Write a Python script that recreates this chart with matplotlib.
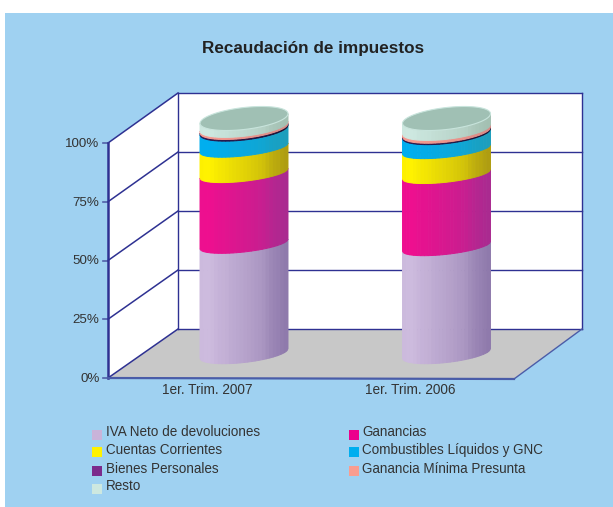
import numpy as np
import matplotlib
matplotlib.use('Agg')
import matplotlib.pyplot as plt
from matplotlib.patches import Polygon, Rectangle

plt.rcParams['font.family'] = ['Liberation Sans', 'DejaVu Sans']

categories = ['1er. Trim. 2007', '1er. Trim. 2006']
series = ['IVA Neto de devoluciones', 'Ganancias', 'Cuentas Corrientes',
          'Combustibles Líquidos y GNC', 'Bienes Personales',
          'Ganancia Mínima Presunta', 'Resto']
# porcentajes, 2007 y 2006
iva = [46.6, 45.6]
ganancias = [30.1, 30.7]
cuentas = [10.8, 10.6]
combustibles = [7.6, 6.7]
bienes = [0.7, 0.6]
minima = [0.9, 1.2]
resto = [3.3, 4.6]
ticks = [0, 25, 50, 75, 100]

left_cols = ['#cdbbde', '#ee0f8f', '#fff200', '#00aeef', '#2a1a50', '#f59a90', '#cde8e0']
right_cols = ['#8a74a8', '#a42c90', '#a89612', '#1f9db8', '#1a1030', '#d88a85', '#9fbcae']
legend_cols = ['#c9b3d9', '#ec008c', '#fff200', '#00aeef', '#7b2a8c', '#f99d90', '#cde8e0']
navy = '#2e3192'

fig = plt.figure(figsize=(6.13, 5.07), dpi=100, facecolor='white')
ax = fig.add_axes([0, 0, 1, 1])
ax.set_xlim(0, 613)
ax.set_ylim(507, 0)
ax.axis('off')

ax.add_patch(Rectangle((5, 13), 608, 494, fc='#9fd1f1', ec='none', zorder=0))


def front_y(p):
    return 378 - 2.35 * p


def back_y(p):
    return 329 - 2.36 * p


# paredes y piso
ax.add_patch(Polygon([(108, front_y(100)), (178, back_y(100)), (582, back_y(100)),
                      (582, back_y(0)), (514, 379), (108, front_y(0))],
                     fc='white', ec='none', zorder=1))
ax.add_patch(Polygon([(108, front_y(0)), (178, back_y(0)), (582, back_y(0)), (514, 379)],
                     fc='#c8c8c8', ec='none', zorder=1))
for p in ticks:
    ax.plot([178, 582], [back_y(p), back_y(p)], color=navy, lw=1.0, zorder=2)
    ax.plot([108, 178], [front_y(p), back_y(p)], color=navy, lw=1.1, zorder=2)
    ax.plot([103, 108], [front_y(p), front_y(p)], color='#5060a8', lw=1.2, zorder=2)
    ax.text(99.5, front_y(p) + 1, f'{p}%', ha='right', va='center', fontsize=9.6, color='#333333', zorder=6)
ax.plot([178, 178], [back_y(100), back_y(0)], color=navy, lw=1.0, zorder=2)
ax.plot([582, 582], [back_y(100), back_y(0)], color=navy, lw=1.0, zorder=2)
ax.plot([108, 108], [front_y(100), front_y(0)], color=navy, lw=1.8, zorder=3)
ax.plot([108, 514], [front_y(0), 379], color='#4a5ca8', lw=1.6, zorder=3)
ax.plot([514, 582], [379, back_y(0)], color='#4a5ca8', lw=1.0, zorder=2)

# cilindros
centers = [244, 446.5]
half_w = 44
slope = 0.11
base_y = 353.5
scale = 2.35
n_strips = 24
# sombreado por tramos, de izquierda a derecha
shade = [.02, 0, 0, .03, .08, .12, .14, .17, .22, .25, .28, .31, .35, .38, .42, .46,
         .50, .55, .64, .72, .78, .82, .88, .92]


def arc_depth(p):
    # la curva del frente es mas plana en el medio del cilindro
    if p == 0:
        return 9
    return 8 if p < 90 else 10


def arc(x, cx, cy, b):
    u = np.clip((x - cx) / half_w, -1, 1)
    return cy + b * np.sqrt(1 - u ** 2) - slope * (x - cx)


def mix(c1, c2, t):
    a = np.array(matplotlib.colors.to_rgb(c1))
    b = np.array(matplotlib.colors.to_rgb(c2))
    return tuple(np.clip(a + (b - a) * t, 0, 1))


values = [iva, ganancias, cuentas, combustibles, bienes, minima, resto]
for j, cx in enumerate(centers):
    low = 0
    for k, vals in enumerate(values):
        high = low + vals[j]
        cy_low = base_y - scale * low
        cy_high = base_y - scale * high
        edges = np.linspace(cx - half_w, cx + half_w, n_strips + 1)
        for i in range(n_strips):
            xs = np.linspace(edges[i], edges[i + 1], 5)
            col = mix(left_cols[k], right_cols[k], shade[i])
            pts = list(zip(xs, arc(xs, cx, cy_high, arc_depth(high)))) + \
                list(zip(xs[::-1], arc(xs[::-1], cx, cy_low, arc_depth(low))))
            ax.add_patch(Polygon(pts, fc=col, ec=col, lw=0.7, zorder=4 + k * 0.01))
        low = high
    # tapa superior
    th = np.linspace(0, 2 * np.pi, 80)
    ex = cx + half_w * np.cos(th)
    ey = base_y - scale * low + 11 * np.sin(th) - slope * half_w * np.cos(th)
    ax.add_patch(Polygon(list(zip(ex, ey)), fc='#a0c0b4', ec='#c8e4dc', lw=0.8, zorder=5))

ax.text(313, 48, 'Recaudación de impuestos', ha='center', va='center', fontsize=12.3,
        fontweight='bold', color='#222222', zorder=6)
for name, x in zip(categories, [207.5, 410.5]):
    ax.text(x, 390.5, name, ha='center', va='center', fontsize=9.8, color='#333333', zorder=6)

# leyenda
legend_x = [92, 349, 92, 349, 92, 349, 92]
legend_y = [435, 435, 452, 452, 471, 471, 489]
label_y = [432, 432, 450, 450, 469, 469, 486]
for name, col, x, y, ty in zip(series, legend_cols, legend_x, legend_y, label_y):
    ax.add_patch(Rectangle((x, y - 5), 10, 10, fc=col, ec='none', zorder=6))
    ax.text(x + 13.5, ty, name, ha='left', va='center', fontsize=9.75, color='#333333', zorder=6)

fig.savefig('out.png', dpi=100, facecolor=fig.get_facecolor())
